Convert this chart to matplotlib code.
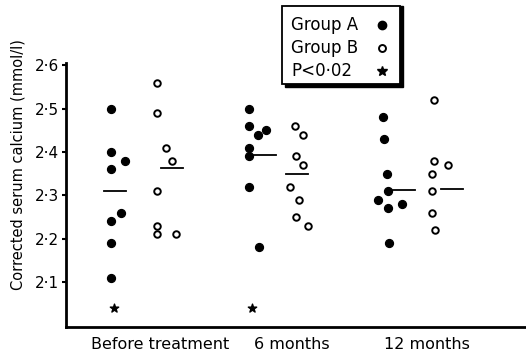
"""Serum calcium dot plot: group A vs group B over treatment time."""

import matplotlib

matplotlib.use("Agg")
import matplotlib.pyplot as plt
from matplotlib.lines import Line2D
from matplotlib.patches import Rectangle

plt.rcParams["font.family"] = ["DejaVu Sans"]

# categories along the x axis
PERIODS = ["Before treatment", "6 months", "12 months"]

# individual values (mmol/l)
group_a = [
    [2.50, 2.40, 2.38, 2.36, 2.26, 2.24, 2.19, 2.11],
    [2.50, 2.46, 2.45, 2.44, 2.41, 2.39, 2.32, 2.18],
    [2.48, 2.43, 2.35, 2.31, 2.29, 2.27, 2.28, 2.19],
]
group_b = [
    [2.56, 2.49, 2.41, 2.38, 2.31, 2.23, 2.21, 2.21],
    [2.46, 2.44, 2.39, 2.37, 2.32, 2.29, 2.25, 2.23],
    [2.52, 2.38, 2.37, 2.35, 2.31, 2.26, 2.22],
]
mean_a = [2.31, 2.392, 2.311]
mean_b = [2.363, 2.348, 2.315]
# periods where A differs significantly (P<0.02)
significant = [True, True, False]
STAR_LEVEL = 2.04

YTICKS = [2.1, 2.2, 2.3, 2.4, 2.5, 2.6]
YTICK_LABELS = ["2·1", "2·2", "2·3", "2·4", "2·5", "2·6"]
LEGEND_LABELS = ["Group A", "Group B", "P<0·02"]

# --- layout only (horizontal scatter so overlapping dots stay visible) ---
PX = 1 / 138  # one pixel of the original in category units
COL_SHIFT = 0.165
jitter_a = [
    [0, 0, 14, 0, 10, 0, 0, 0],
    [0, 0, 17, 9, 0, 0, 0, 10],
    [-4, -3, 0, 1, -9, 1, 15, 2],
]
jitter_b = [
    [0, 0, 9, 15, 0, 0, 0, 19],
    [0, 8, 1, 8, -5, 4, 1, 13],
    [1, 1, 15, -1, -1, -1, 2],
]
mean_off_a = [4, 16, 17]
mean_off_b = [15, 2, 19]
MEAN_HALF = 11
LABEL_OFF = [26, 20, 17]

W, H = 526, 353
fig = plt.figure(figsize=(W / 100, H / 100), dpi=100)
ax = fig.add_axes([66 / W, 26 / H, 460 / W, 264 / H])

for i in range(len(PERIODS)):
    xa = i - COL_SHIFT
    xb = i + COL_SHIFT
    ax.scatter([xa + j * PX for j in jitter_a[i]], group_a[i], s=32,
               color="black", zorder=3)
    ax.scatter([xb + j * PX for j in jitter_b[i]], group_b[i], s=22,
               facecolor="white", edgecolor="black", linewidth=1.4, zorder=3)
    ca = xa + mean_off_a[i] * PX
    cb = xb + mean_off_b[i] * PX
    ax.plot([ca - MEAN_HALF * PX, ca + MEAN_HALF * PX], [mean_a[i]] * 2,
            color="black", lw=1.3)
    ax.plot([cb - MEAN_HALF * PX, cb + MEAN_HALF * PX], [mean_b[i]] * 2,
            color="black", lw=1.3)
    if significant[i]:
        ax.scatter([xa + 3 * PX], [STAR_LEVEL], marker="*", s=40,
                   color="black", zorder=3)

ax.set_xlim(-68 * PX, 392 * PX)
ax.set_ylim(1.996, 2.605)
ax.set_yticks(YTICKS)
ax.set_yticklabels(YTICK_LABELS, fontsize=11)
ax.set_xticks([i + off * PX for i, off in enumerate(LABEL_OFF)])
ax.set_xticklabels(PERIODS, fontsize=11.5)
ax.tick_params(axis="x", length=0, pad=7)
ax.tick_params(axis="y", length=3, width=1.5, pad=2)
for side in ("top", "right"):
    ax.spines[side].set_visible(False)
for side in ("left", "bottom"):
    ax.spines[side].set_linewidth(2)

fig.text(18 / W, 1 - 165 / H, "Corrected serum calcium (mmol/l)",
         rotation=90, ha="center", va="center", fontsize=10.5)


# key box with a solid drop shadow, placed in pixel-based figure coords
def fx(px):
    return px / W


def fy(py):
    return 1 - py / H


fig.patches.append(Rectangle((fx(285), fy(87)), fx(118), 81 / H,
                             transform=fig.transFigure, color="black"))
fig.patches.append(Rectangle((fx(282), fy(84)), fx(118), 78 / H,
                             transform=fig.transFigure, facecolor="white",
                             edgecolor="black", lw=1.3))
key_styles = [
    dict(marker="o", ms=6, color="black"),
    dict(marker="o", ms=5, mfc="white", mec="black", mew=1.4),
    dict(marker="*", ms=7, color="black"),
]
for row, (label, style) in enumerate(zip(LEGEND_LABELS, key_styles)):
    yy = fy(25 + row * 23)
    fig.text(fx(291), yy, label, ha="left", va="center", fontsize=12)
    fig.add_artist(Line2D([fx(382)], [yy], ls="none",
                          transform=fig.transFigure, zorder=5, **style))

plt.savefig("out.png", dpi=100)
